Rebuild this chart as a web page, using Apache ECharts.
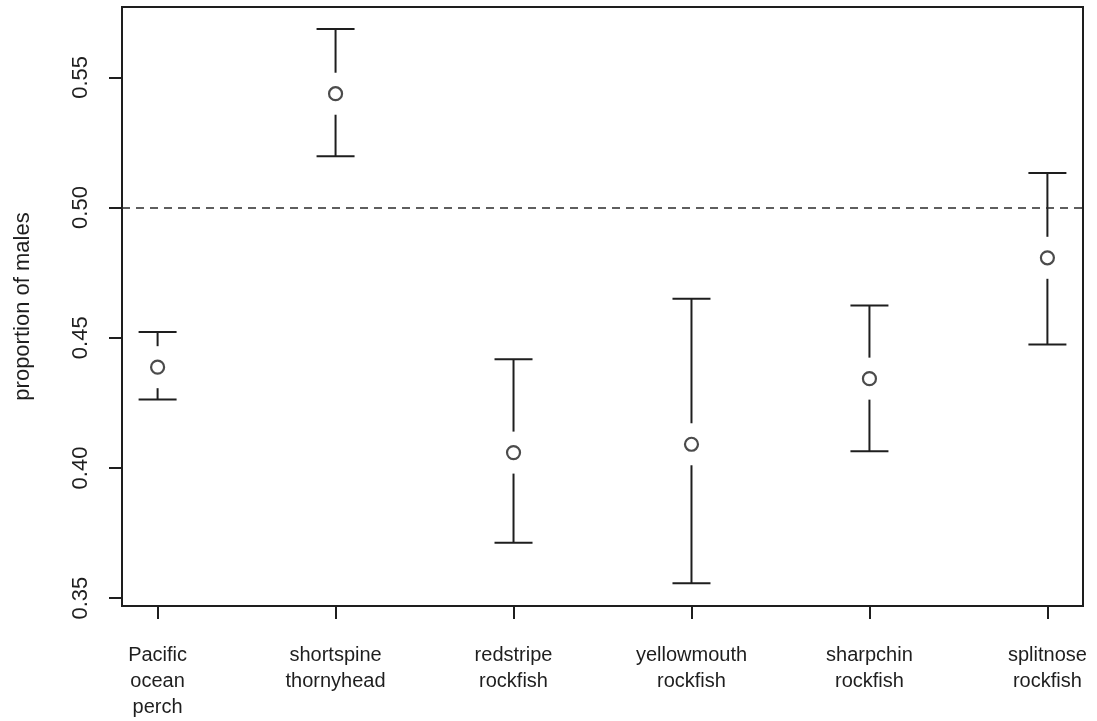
<!DOCTYPE html>
<html>
<head>
<meta charset="utf-8">
<script src="https://cdn.jsdelivr.net/npm/echarts@6/dist/echarts.min.js"></script>
<style>
  html, body { margin: 0; padding: 0; background: #fff; }
  #chart { width: 1097px; height: 721px; }
</style>
</head>
<body>
<div id="chart"></div>
<script>
// Species sampled, and the estimated proportion of males with its confidence limits
const species = [
  'Pacific\nocean\nperch',
  'shortspine\nthornyhead',
  'redstripe\nrockfish',
  'yellowmouth\nrockfish',
  'sharpchin\nrockfish',
  'splitnose\nrockfish'
];
const proportion = [0.4387, 0.5437, 0.4059, 0.4091, 0.4343, 0.4807];
const lowerCI    = [0.4263, 0.5197, 0.3713, 0.3557, 0.4064, 0.4474];
const upperCI    = [0.4522, 0.5686, 0.4417, 0.4650, 0.4624, 0.5133];
const yTicks = [0.35, 0.40, 0.45, 0.50, 0.55];
const evenRatio = 0.5;

const ink = '#1e1e1e';
const font = 'Liberation Sans, Arial, Helvetica, sans-serif';
const positions = species.map((_, i) => i + 1);

const chart = echarts.init(document.getElementById('chart'), null, { renderer: 'canvas' });

const barData = positions.map((x, i) => [x, lowerCI[i], upperCI[i], proportion[i]]);
const pointData = positions.map((x, i) => [x, proportion[i]]);

chart.setOption({
  animation: false,
  backgroundColor: '#fff',
  grid: {
    left: 122, right: 14, top: 7, bottom: 115,
    show: true, borderColor: ink, borderWidth: 2, backgroundColor: 'transparent'
  },
  xAxis: {
    type: 'value',
    min: 0.8, max: 6.2,
    splitLine: { show: false },
    axisLine: { show: false },
    axisTick: {
      show: true, customValues: positions, length: 13,
      lineStyle: { color: ink, width: 2 }
    },
    axisLabel: {
      show: true, customValues: positions,
      formatter: v => species[Math.round(v) - 1] || '',
      fontFamily: font, fontSize: 20, lineHeight: 26, color: ink,
      margin: 36, verticalAlign: 'top'
    }
  },
  yAxis: {
    type: 'value',
    min: 0.347, max: 0.577,
    name: 'proportion of males',
    nameLocation: 'middle',
    nameRotate: 90,
    nameGap: 88,
    nameTextStyle: { fontFamily: font, fontSize: 22, color: ink },
    splitLine: { show: false },
    axisLine: { show: false },
    axisTick: {
      show: true, customValues: yTicks, length: 13,
      lineStyle: { color: ink, width: 2 }
    },
    axisLabel: {
      show: true, customValues: yTicks,
      rotate: 90,
      formatter: v => v.toFixed(2),
      fontFamily: font, fontSize: 22, color: ink, margin: 30
    }
  },
  series: [
    {
      type: 'custom',
      data: barData,
      encode: { x: 0, y: [1, 2, 3] },
      renderItem: function (params, api) {
        const x = api.value(0);
        const pLo = api.coord([x, api.value(1)]);
        const pHi = api.coord([x, api.value(2)]);
        const pMid = api.coord([x, api.value(3)]);
        const gap = 21, half = 19;
        const style = { stroke: ink, lineWidth: 2 };
        return {
          type: 'group',
          children: [
            { type: 'line', shape: { x1: pHi[0], y1: pHi[1], x2: pHi[0], y2: pMid[1] - gap }, style },
            { type: 'line', shape: { x1: pLo[0], y1: pMid[1] + gap, x2: pLo[0], y2: pLo[1] }, style },
            { type: 'line', shape: { x1: pHi[0] - half, y1: pHi[1], x2: pHi[0] + half, y2: pHi[1] }, style },
            { type: 'line', shape: { x1: pLo[0] - half, y1: pLo[1], x2: pLo[0] + half, y2: pLo[1] }, style }
          ]
        };
      },
      z: 2
    },
    {
      type: 'scatter',
      data: pointData,
      symbol: 'circle',
      symbolSize: 13,
      itemStyle: { color: '#fff', borderColor: ink, borderWidth: 2.2 },
      markLine: {
        silent: true,
        symbol: 'none',
        label: { show: false },
        lineStyle: { color: '#2a2a2a', width: 1.5, type: [8, 6] },
        data: [{ yAxis: evenRatio }]
      },
      z: 3
    }
  ]
});
</script>
</body>
</html>
